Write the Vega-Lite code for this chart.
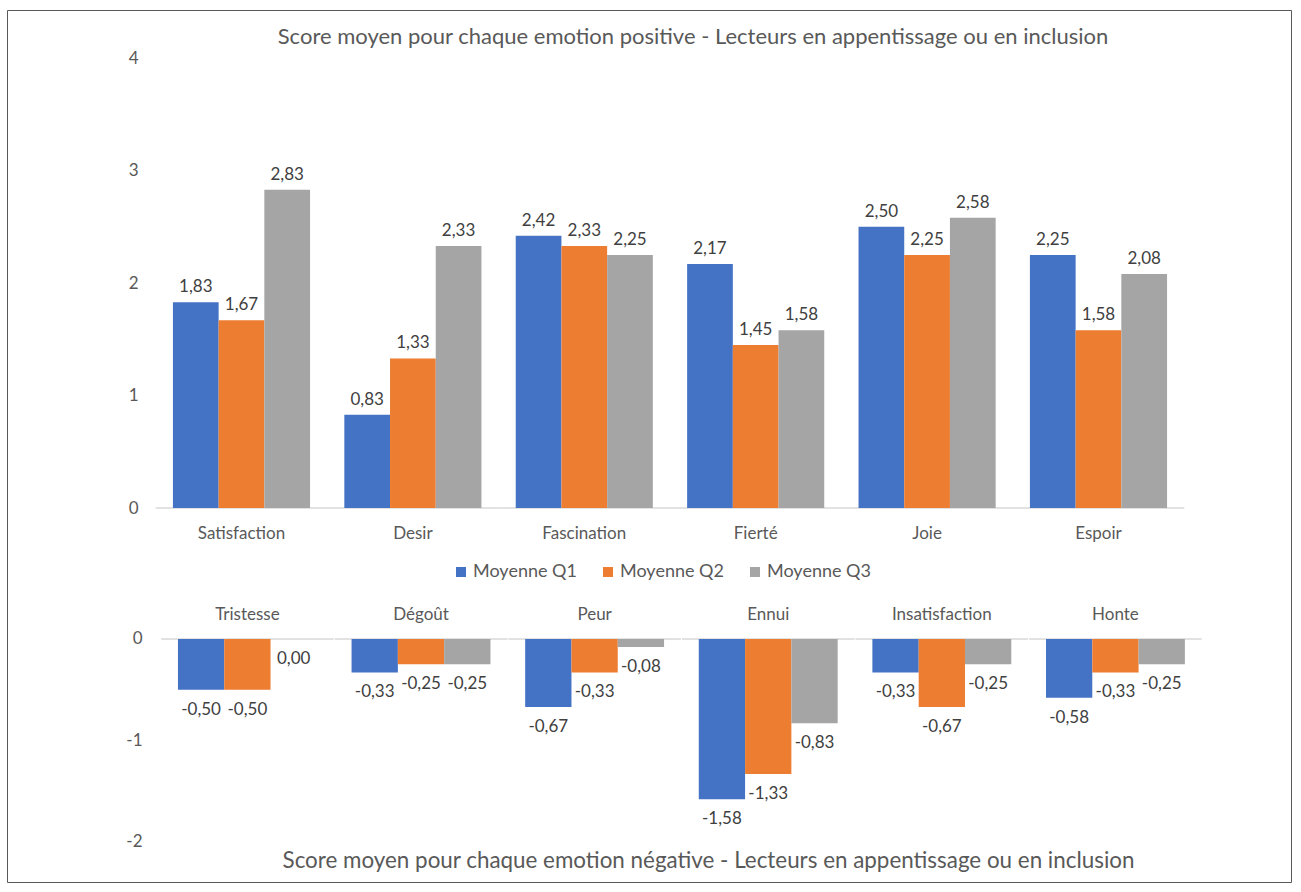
{
  "$schema": "https://vega.github.io/schema/vega-lite/v6.json",
  "width": 1284,
  "height": 872,
  "autosize": {"type": "none"},
  "padding": {"left": 7, "top": 10, "right": 10, "bottom": 10},
  "background": "white",
  "title": {
    "text": "Score moyen pour chaque emotion positive -  Lecteurs en appentissage ou en inclusion",
    "anchor": "middle",
    "frame": "group",
    "orient": "top",
    "offset": 0,
    "baseline": "alphabetic",
    "dx": 44,
    "dy": 56,
    "fontSize": 22,
    "fontWeight": "normal",
    "color": "#595959"
  },
  "datasets": {
    "positives": [
      {"emotion": "Satisfaction", "serie": "Moyenne Q1", "value": 1.83},
      {"emotion": "Satisfaction", "serie": "Moyenne Q2", "value": 1.67},
      {"emotion": "Satisfaction", "serie": "Moyenne Q3", "value": 2.83},
      {"emotion": "Desir", "serie": "Moyenne Q1", "value": 0.83},
      {"emotion": "Desir", "serie": "Moyenne Q2", "value": 1.33},
      {"emotion": "Desir", "serie": "Moyenne Q3", "value": 2.33},
      {"emotion": "Fascination", "serie": "Moyenne Q1", "value": 2.42},
      {"emotion": "Fascination", "serie": "Moyenne Q2", "value": 2.33},
      {"emotion": "Fascination", "serie": "Moyenne Q3", "value": 2.25},
      {"emotion": "Fierté", "serie": "Moyenne Q1", "value": 2.17},
      {"emotion": "Fierté", "serie": "Moyenne Q2", "value": 1.45},
      {"emotion": "Fierté", "serie": "Moyenne Q3", "value": 1.58},
      {"emotion": "Joie", "serie": "Moyenne Q1", "value": 2.50},
      {"emotion": "Joie", "serie": "Moyenne Q2", "value": 2.25},
      {"emotion": "Joie", "serie": "Moyenne Q3", "value": 2.58},
      {"emotion": "Espoir", "serie": "Moyenne Q1", "value": 2.25},
      {"emotion": "Espoir", "serie": "Moyenne Q2", "value": 1.58},
      {"emotion": "Espoir", "serie": "Moyenne Q3", "value": 2.08}
    ],
    "negatives": [
      {"emotion": "Tristesse", "serie": "Moyenne Q1", "value": -0.50},
      {"emotion": "Tristesse", "serie": "Moyenne Q2", "value": -0.50},
      {"emotion": "Tristesse", "serie": "Moyenne Q3", "value": 0.00},
      {"emotion": "Dégoût", "serie": "Moyenne Q1", "value": -0.33},
      {"emotion": "Dégoût", "serie": "Moyenne Q2", "value": -0.25},
      {"emotion": "Dégoût", "serie": "Moyenne Q3", "value": -0.25},
      {"emotion": "Peur", "serie": "Moyenne Q1", "value": -0.67},
      {"emotion": "Peur", "serie": "Moyenne Q2", "value": -0.33},
      {"emotion": "Peur", "serie": "Moyenne Q3", "value": -0.08},
      {"emotion": "Ennui", "serie": "Moyenne Q1", "value": -1.58},
      {"emotion": "Ennui", "serie": "Moyenne Q2", "value": -1.33},
      {"emotion": "Ennui", "serie": "Moyenne Q3", "value": -0.83},
      {"emotion": "Insatisfaction", "serie": "Moyenne Q1", "value": -0.33},
      {"emotion": "Insatisfaction", "serie": "Moyenne Q2", "value": -0.67},
      {"emotion": "Insatisfaction", "serie": "Moyenne Q3", "value": -0.25},
      {"emotion": "Honte", "serie": "Moyenne Q1", "value": -0.58},
      {"emotion": "Honte", "serie": "Moyenne Q2", "value": -0.33},
      {"emotion": "Honte", "serie": "Moyenne Q3", "value": -0.25}
    ]
  },
  "layer": [
    {
      "data": {"name": "positives"},
      "encoding": {
        "x": {
          "field": "emotion",
          "type": "nominal",
          "sort": null,
          "scale": {
            "domain": ["Satisfaction", "Desir", "Fascination", "Fierté", "Joie", "Espoir"],
            "paddingInner": 0.2,
            "paddingOuter": 0.8456,
            "align": 0.5724
          },
          "axis": {
            "orient": "bottom",
            "offset": -374,
            "domain": false,
            "ticks": false,
            "grid": false,
            "labelAngle": 0,
            "labelPadding": 17,
            "labelFontSize": 17,
            "labelColor": "#595959",
            "title": null
          }
        },
        "y": {
          "field": "value",
          "type": "quantitative",
          "scale": {"domain": [-3.32444, 4.42667], "nice": false, "zero": false},
          "axis": {
            "orient": "left",
            "offset": -141,
            "values": [0, 1, 2, 3, 4],
            "domain": false,
            "ticks": false,
            "grid": false,
            "labelPadding": 10,
            "labelFontSize": 17,
            "labelColor": "#595959",
            "title": null
          }
        }
      },
      "layer": [
        {
          "mark": {"type": "tick", "orient": "horizontal", "size": 171.4, "thickness": 1.2, "color": "#d9d9d9"},
          "encoding": {
            "y": {"datum": 0, "type": "quantitative"}
          }
        },
        {
          "mark": {"type": "bar"},
          "encoding": {
            "xOffset": {"field": "serie", "type": "nominal", "scale": {"domain": ["Moyenne Q1", "Moyenne Q2", "Moyenne Q3"], "paddingInner": 0, "paddingOuter": 0}},
            "color": {
              "field": "serie",
              "type": "nominal",
              "scale": {"domain": ["Moyenne Q1", "Moyenne Q2", "Moyenne Q3"], "range": ["#4472C4", "#ED7D31", "#A5A5A5"]},
              "legend": {
                "orient": "none",
                "legendX": 445,
                "legendY": 553,
                "direction": "horizontal",
                "title": null,
                "symbolType": "square",
                "symbolSize": 100,
                "symbolStrokeWidth": 0,
                "labelFontSize": 18,
                "labelColor": "#595959",
                "labelOffset": 3,
                "columnPadding": 22,
                "padding": 0
              }
            }
          }
        },
        {
          "mark": {"type": "text", "baseline": "alphabetic", "dy": -10, "fontSize": 17, "color": "#404040"},
          "encoding": {
            "xOffset": {"field": "serie", "type": "nominal"},
            "text": {"field": "value", "type": "quantitative", "format": ".2f"}
          }
        }
      ]
    },
    {
      "data": {"name": "negatives"},
      "encoding": {
        "x": {
          "field": "emotion",
          "type": "nominal",
          "sort": null,
          "scale": {
            "domain": ["Tristesse", "Dégoût", "Peur", "Ennui", "Insatisfaction", "Honte"],
            "paddingInner": 0.2,
            "paddingOuter": 0.798,
            "align": 0.617
          },
          "axis": {
            "orient": "top",
            "offset": -629,
            "domain": false,
            "ticks": false,
            "grid": false,
            "labelAngle": 0,
            "labelPadding": 16,
            "labelFontSize": 17,
            "labelColor": "#595959",
            "title": "Score moyen pour chaque emotion négative -  Lecteurs en appentissage ou en inclusion",
            "titleX": 701,
            "titleY": 228,
            "titleAlign": "center",
            "titleBaseline": "alphabetic",
            "titleFontSize": 22.4,
            "titleFontWeight": "normal",
            "titleColor": "#595959"
          }
        },
        "y": {
          "field": "value",
          "type": "quantitative",
          "scale": {"domain": [-2.39409, 6.19704], "nice": false, "zero": false},
          "axis": {
            "orient": "left",
            "offset": -145,
            "values": [0, -1, -2],
            "domain": false,
            "ticks": false,
            "grid": false,
            "labelPadding": 10,
            "labelFontSize": 17,
            "labelColor": "#595959",
            "title": null
          }
        }
      },
      "layer": [
        {
          "mark": {"type": "tick", "orient": "horizontal", "size": 172.5, "thickness": 1.2, "color": "#d9d9d9"},
          "encoding": {
            "y": {"datum": 0, "type": "quantitative"}
          }
        },
        {
          "mark": {"type": "bar"},
          "encoding": {
            "xOffset": {"field": "serie", "type": "nominal", "scale": {"domain": ["Moyenne Q1", "Moyenne Q2", "Moyenne Q3"], "paddingInner": 0, "paddingOuter": 0}},
            "color": {
              "field": "serie",
              "type": "nominal",
              "legend": null
            }
          }
        },
        {
          "mark": {"type": "text", "baseline": "top", "dy": 12, "fontSize": 17, "color": "#404040"},
          "encoding": {
            "xOffset": {"field": "serie", "type": "nominal"},
            "text": {"field": "value", "type": "quantitative", "format": ".2f"}
          }
        }
      ]
    }
  ],
  "resolve": {
    "scale": {"x": "independent", "y": "independent", "xOffset": "independent"},
    "axis": {"x": "independent", "y": "independent"}
  },
  "config": {
    "font": "Lato",
    "locale": {
      "number": {"decimal": ",", "thousands": " ", "grouping": [3], "currency": ["", " €"], "minus": "-"}
    },
    "view": {"stroke": "#595959", "strokeWidth": 1}
  }
}
